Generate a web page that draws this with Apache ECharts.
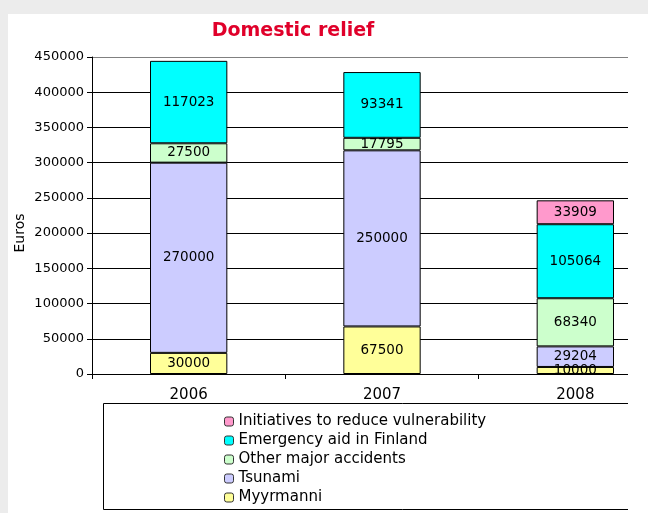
<!DOCTYPE html>
<html>
<head>
<meta charset="utf-8">
<script src="https://cdn.jsdelivr.net/npm/echarts@6/dist/echarts.min.js"></script>
<style>
  html, body { margin: 0; padding: 0; background: #ececec; overflow: hidden; }
  #chart { width: 700px; height: 513px; }
</style>
</head>
<body>
<div id="chart"></div>
<script>
const years = ['2006', '2007', '2008']
const myyrmanni = [30000, 67500, 10000]
const tsunami = [270000, 250000, 29204]
const otherAccidents = [27500, 17795, 68340]
const emergencyAid = [117023, 93341, 105064]
const initiatives = [null, null, 33909]

const font = 'DejaVu Sans'

function seg(name, data, color) {
    return {
        name: name,
        type: 'bar',
        stack: 'total',
        barWidth: '40%',
        data: data,
        itemStyle: { color: color, borderColor: '#000', borderWidth: 1 },
        label: {
            show: true,
            position: 'inside',
            color: '#000',
            fontFamily: font,
            fontSize: 13.5
        }
    }
}

// last split line (top of plot) is grey, the rest black
const splitColors = ['#000', '#000', '#000', '#000', '#000', '#000', '#000', '#000', '#000', '#808080']

const chart = echarts.init(document.getElementById('chart'))
chart.setOption({
    backgroundColor: '#ececec',
    animation: false,
    graphic: [
        { type: 'rect', z: -10, shape: { x: 8, y: 14, width: 700, height: 510 }, style: { fill: '#fff' } },
        { type: 'rect', z: -5, shape: { x: 103.5, y: 403.5, width: 600, height: 106 }, style: { fill: '#fff', stroke: '#000', lineWidth: 1 } },
        // the plot is cut off at the right edge of the picture
        { type: 'rect', z: 100, shape: { x: 628, y: 14, width: 80, height: 510 }, style: { fill: '#fff' } },
        // y axis title sits a bit below the middle of the axis
        {
            type: 'text', x: 20, y: 233, rotation: Math.PI / 2,
            style: { text: 'Euros', fill: '#000', font: '14px "DejaVu Sans"', align: 'center', verticalAlign: 'middle' }
        }
    ],
    title: {
        text: 'Domestic relief',
        left: 288,
        textAlign: 'center',
        top: 17,
        textStyle: { color: '#e0002a', fontSize: 19, fontWeight: 'bold', fontFamily: font }
    },
    legend: {
        orient: 'vertical',
        left: 219,
        top: 407,
        height: 120,
        itemWidth: 9,
        itemHeight: 9,
        itemGap: 0,
        data: ['Initiatives to reduce vulnerability', 'Emergency aid in Finland', 'Other major accidents', 'Tsunami', 'Myyrmanni'],
        textStyle: { fontFamily: font, fontSize: 15, lineHeight: 19, color: '#000', padding: [0, 0, 0, 0] },
        itemStyle: { borderColor: '#333', borderWidth: 1 }
    },
    grid: { left: 92, right: 28, top: 57, bottom: 139 },
    xAxis: {
        type: 'category',
        data: years,
        axisLine: { lineStyle: { color: '#000' } },
        axisTick: { show: true, length: 5, lineStyle: { color: '#000' } },
        axisLabel: { color: '#000', fontFamily: font, fontSize: 15, margin: 14 }
    },
    yAxis: {
        type: 'value',
        min: 0,
        max: 450000,
        interval: 50000,
        axisLine: { show: true, lineStyle: { color: '#000' } },
        axisTick: { show: true, length: 5, lineStyle: { color: '#000' } },
        axisLabel: { color: '#000', fontFamily: font, fontSize: 13, margin: 8, formatter: v => String(v) },
        splitLine: { lineStyle: { color: splitColors } }
    },
    series: [
        seg('Myyrmanni', myyrmanni, '#ffff99'),
        seg('Tsunami', tsunami, '#ccccff'),
        seg('Other major accidents', otherAccidents, '#ccffcc'),
        seg('Emergency aid in Finland', emergencyAid, '#00ffff'),
        seg('Initiatives to reduce vulnerability', initiatives, '#ff99cc')
    ]
})
</script>
</body>
</html>
